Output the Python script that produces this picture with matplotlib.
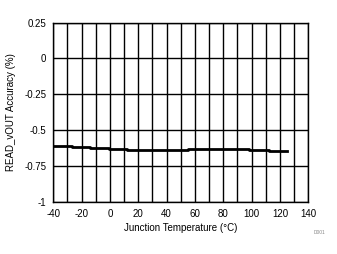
import matplotlib
matplotlib.use("Agg")
import matplotlib.pyplot as plt
import numpy as np

temps = [-40, -27, -14, -1, 12, 55, 98, 112, 125]
accuracy = [-0.612, -0.618, -0.624, -0.630, -0.637, -0.632, -0.637, -0.643, -0.643]
xticks = [-40, -20, 0, 20, 40, 60, 80, 100, 120, 140]
yticks = [-1, -0.75, -0.5, -0.25, 0, 0.25]
yticklabels = ["-1", "-0.75", "-0.5", "-0.25", "0", "0.25"]

plt.rcParams['font.family'] = ['Liberation Sans', 'DejaVu Sans']
plt.rcParams['axes.unicode_minus'] = False
fig = plt.figure(figsize=(3.37, 2.54), dpi=100)
ax = fig.add_axes([53.3/337, 1-201.7/254, 255/337, 179/254])
ax.set_xlim(-40, 140)
ax.set_ylim(-1, 0.25)
ax.set_xticks(xticks)
ax.set_xticks(np.arange(-40, 141, 10), minor=True)
ax.set_yticks(yticks)
ax.set_yticklabels(yticklabels)
ax.grid(True, which='both', axis='x', color='black', lw=1)
ax.grid(True, which='major', axis='y', color='black', lw=1)
ax.tick_params(which='both', length=0, labelsize=7, pad=5)
for s in ax.spines.values():
    s.set_linewidth(1)
ax.step(temps, accuracy, where='post', color='black', lw=2, zorder=3)
ax.set_xlabel("Junction Temperature (°C)", fontsize=7, labelpad=3)
ax.set_ylabel("READ_vOUT Accuracy (%)", fontsize=7, labelpad=6)
fig.text(320/337, 1-233/254, "D001", fontsize=3.5, color='#888888', ha='center', va='center')
fig.savefig("out.png", dpi=100)
